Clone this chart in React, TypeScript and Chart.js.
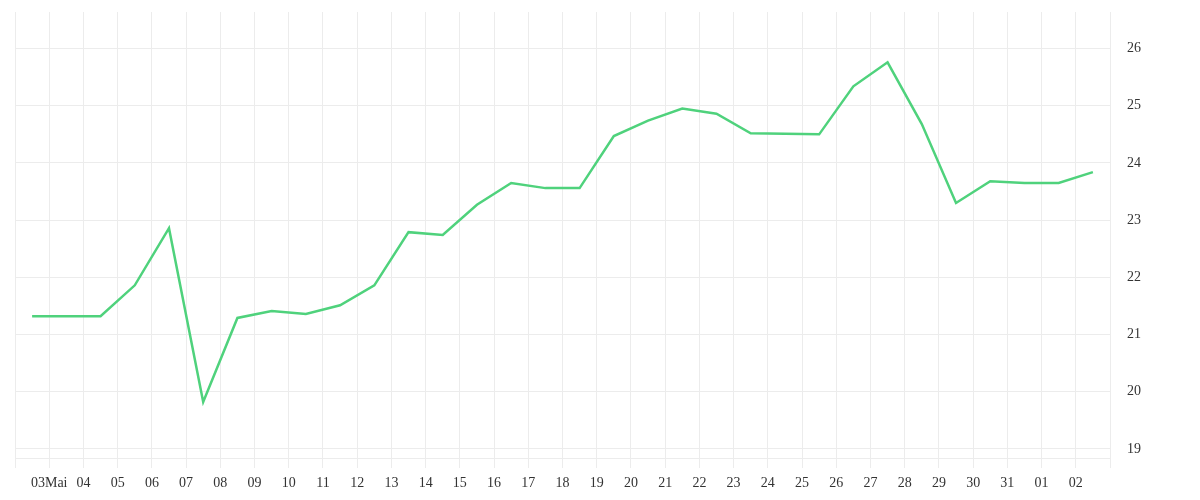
import React, { useEffect, useRef } from "react";
import Chart from "chart.js/auto";

// Tick labels at day boundaries (May 2 .. June 3); first and last edge unlabeled
const tickLabels: string[] = [
  "", "03Mai", "04", "05", "06", "07", "08", "09", "10", "11", "12", "13",
  "14", "15", "16", "17", "18", "19", "20", "21", "22", "23", "24", "25",
  "26", "27", "28", "29", "30", "31", "01", "02", "",
];

// Daily values (placed at mid-day, May 2 .. June 2)
const values: number[] = [
  21.32, 21.32, 21.32, 21.86, 22.86, 19.82, 21.29, 21.41, 21.36, 21.51,
  21.86, 22.79, 22.74, 23.27, 23.65, 23.56, 23.56, 24.47, 24.74, 24.95,
  24.86, 24.52, 24.51, 24.50, 25.34, 25.76, 24.68, 23.30, 23.68, 23.65,
  23.65, 23.84,
];

const yTicks: number[] = [19, 20, 21, 22, 23, 24, 25, 26];

const FONT = "'Liberation Serif', 'Times New Roman', serif";
const GRID = "#ececec";

export default function App() {
  const ref = useRef<HTMLCanvasElement>(null);
  useEffect(() => {
    if (!ref.current) return;
    const points = values.map((v, i) => ({ x: i + 0.5, y: v }));
    const chart = new Chart(ref.current, {
      type: "line",
      data: {
        datasets: [
          {
            data: points,
            borderColor: "#4fd27c",
            backgroundColor: "#4fd27c",
            borderWidth: 2.5,
            pointRadius: 0,
            tension: 0,
            fill: false,
          },
        ],
      },
      options: {
        animation: false,
        responsive: false,
        layout: { padding: { left: 15, top: 12, right: 0, bottom: 0 } },
        plugins: { legend: { display: false }, tooltip: { enabled: false } },
        scales: {
          x: {
            type: "linear",
            min: 0,
            max: tickLabels.length - 1,
            grid: { color: GRID, tickLength: 10, drawTicks: true },
            border: { color: GRID },
            ticks: {
              stepSize: 1,
              autoSkip: false,
              maxRotation: 0,
              padding: 7,
              color: "#333",
              font: { family: FONT, size: 14 },
              callback: (v: any) => tickLabels[Math.round(Number(v))] ?? "",
            },
            afterFit: (s: any) => {
              s.height = 42;
              s.paddingLeft = 0;
              s.paddingRight = 0;
            },
          },
          y: {
            position: "right",
            min: 18.84,
            max: 26.64,
            grid: { color: GRID, drawTicks: false },
            border: { color: GRID },
            ticks: {
              padding: 17,
              color: "#333",
              font: { family: FONT, size: 14 },
            },
            afterBuildTicks: (s: any) => {
              s.ticks = yTicks.map((v) => ({ value: v }));
            },
            afterFit: (s: any) => {
              s.width = 90;
              s.paddingTop = 0;
              s.paddingBottom = 0;
            },
          },
        },
      },
    });
    return () => chart.destroy();
  }, []);
  return (
    <div style={{ position: "absolute", left: 0, top: 0, width: 1200, height: 500 }}>
      <canvas ref={ref} width={1200} height={500} style={{ display: "block" }} />
    </div>
  );
}
